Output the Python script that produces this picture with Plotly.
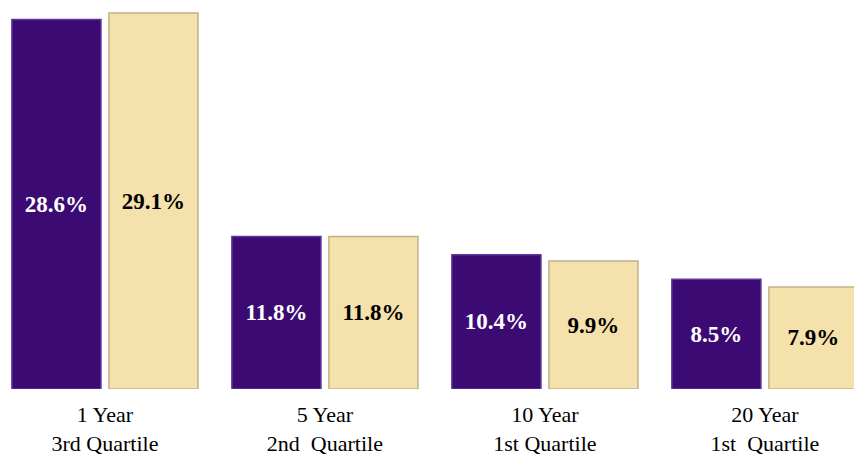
import plotly.graph_objects as go

categories = ["1 Year<br>3rd Quartile", "5 Year<br>2nd  Quartile", "10 Year<br>1st Quartile", "20 Year<br>1st  Quartile"]
series_a = [28.6, 11.8, 10.4, 8.5]
series_b = [29.1, 11.8, 9.9, 7.9]
labels_a = ["28.6%", "11.8%", "10.4%", "8.5%"]
labels_b = ["29.1%", "11.8%", "9.9%", "7.9%"]

xpos = list(range(len(categories)))
serif = "Liberation Serif"

fig = go.Figure()
fig.add_trace(go.Bar(
    x=xpos, y=series_a, text=labels_a, textposition="inside", insidetextanchor="middle",
    textfont=dict(family=serif, size=23, color="white", weight="bold"),
    marker=dict(color="#3c0a73", line=dict(color="#5e34a0", width=1.5)),
    showlegend=False, hoverinfo="skip",
))
fig.add_trace(go.Bar(
    x=xpos, y=series_b, text=labels_b, textposition="inside", insidetextanchor="middle",
    textfont=dict(family=serif, size=23, color="black", weight="bold"),
    marker=dict(color="#f4e1ab", line=dict(color="#c2b187", width=1.5)),
    showlegend=False, hoverinfo="skip",
))
fig.update_layout(
    width=854, height=457,
    margin=dict(l=0, r=0, t=5, b=68),
    paper_bgcolor="white", plot_bgcolor="white",
    barmode="group", bargap=0.118, bargroupgap=0.082,
    xaxis=dict(range=[-0.477, 3.405], tickvals=xpos, ticktext=categories,
               showgrid=False, zeroline=False, showline=False, ticks="",
               tickfont=dict(family=serif, size=22, color="black"), ticklabelstandoff=10),
    yaxis=dict(range=[0, 29.72], visible=False, showgrid=False, zeroline=False),
    uniformtext=dict(mode="show", minsize=10),
)
fig.write_html("out.html")
